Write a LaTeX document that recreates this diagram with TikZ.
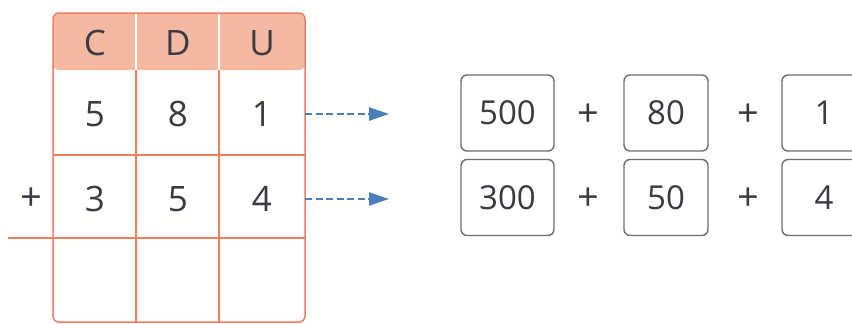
\documentclass[tikz,border=0pt]{standalone}
\usepackage{fontspec}
\setmainfont{Open Sans}
\usetikzlibrary{arrows.meta}

\definecolor{gridline}{HTML}{F07F62}
\definecolor{headfill}{HTML}{F5B9A2}
\definecolor{arrowblue}{HTML}{4A7EBA}
\definecolor{boxgray}{HTML}{6E6E6E}
\definecolor{ink}{HTML}{3A3A44}

\tikzset{
    digit/.style={text=ink,font=\fontsize{35}{35}\selectfont},
    sign/.style={text=ink,font=\fontsize{38}{38}\selectfont},
    part/.style={draw=boxgray,line width=1.4pt,rounded corners=6pt,minimum height=76pt,text=ink,font=\fontsize{33}{33}\selectfont},
    link/.style={arrowblue,line width=2.6pt,dash pattern=on 7pt off 3.5pt,-{Triangle[length=20pt,width=13pt]}}
}

\begin{document}
\begin{tikzpicture}[x=1pt,y=-1pt]
    \useasboundingbox (0,0) rectangle (852,324);
    \clip (0,0) rectangle (852,324);
    \fill[white] (0,0) rectangle (852,324);
    % table
    \fill[headfill,rounded corners=6pt] (53,70) -- (53,13) -- (305,13) -- (305,70) -- cycle;
    \draw[white,line width=1.5pt] (136,13) -- (136,70);
    \draw[white,line width=1.5pt] (219,13) -- (219,70);
    \draw[gridline,line width=1.5pt,rounded corners=6pt] (53,13) rectangle (305,322);
    \draw[gridline,line width=1.5pt] (136,70) -- (136,322);
    \draw[gridline,line width=1.5pt] (219,70) -- (219,322);
    \draw[gridline,line width=1.5pt] (53,155) -- (305,155);
    \draw[gridline,line width=1.5pt] (8,238) -- (305,238);
    \node[digit] (hc) at (95,43) {C};
    \node[digit] (hd) at (178,43) {D};
    \node[digit] (hu) at (262,43) {U};
    \node[digit] (a1) at (95,114) {5};
    \node[digit] (a2) at (178,114) {8};
    \node[digit] (a3) at (262,114) {1};
    \node[digit] (b1) at (95,199) {3};
    \node[digit] (b2) at (178,199) {5};
    \node[digit] (b3) at (262,199) {4};
    \node[sign] (plus) at (31,199) {+};
    % decomposition
    \node[part,minimum width=93pt] (p500) at (507.5,113) {500};
    \node[sign] (s1) at (588,115) {+};
    \node[part,minimum width=84pt] (p80) at (666,113) {80};
    \node[sign] (s2) at (748,115) {+};
    \node[part,minimum width=84pt] (p1) at (824,113) {1};
    \node[part,minimum width=93pt] (p300) at (507.5,197.5) {300};
    \node[sign] (s3) at (588,199) {+};
    \node[part,minimum width=84pt] (p50) at (666,197.5) {50};
    \node[sign] (s4) at (748,199) {+};
    \node[part,minimum width=84pt] (p4) at (824,197.5) {4};
    \coordinate (e1) at (389,114);
    \coordinate (e2) at (389,199);
    \draw[link] (e1 -| 305,0) -- (e1);
    \draw[link] (e2 -| 305,0) -- (e2);
\end{tikzpicture}
\end{document}
